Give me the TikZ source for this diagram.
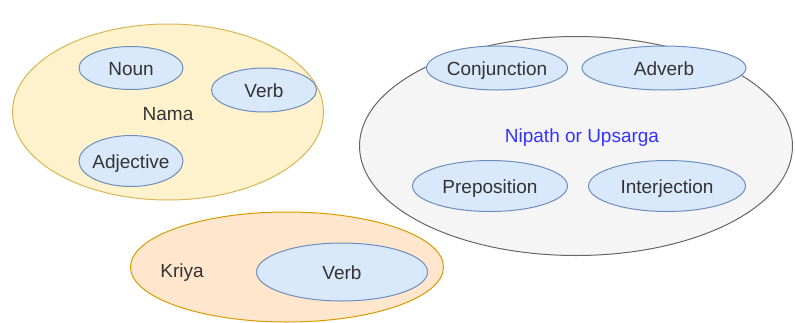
\documentclass[tikz,border=0pt]{standalone}
\usepackage{fontspec}
\setmainfont{Liberation Sans}
\usetikzlibrary{shapes.geometric}
\definecolor{namafill}{HTML}{FFF2CC}
\definecolor{namaline}{HTML}{D6B656}
\definecolor{kriyafill}{HTML}{FFE6CC}
\definecolor{kriyaline}{HTML}{D79B00}
\definecolor{wordfill}{HTML}{DAE8FC}
\definecolor{wordline}{HTML}{6C8EBF}
\definecolor{groupfill}{HTML}{F5F5F5}
\definecolor{groupline}{HTML}{666666}
\definecolor{textgray}{HTML}{333333}
\definecolor{nipathblue}{HTML}{3333FF}
\tikzset{
  typeset/.style={font=\fontsize{19}{21}\selectfont, text height=17pt, text depth=1.6pt},
  blob/.style={ellipse, inner sep=0pt, line width=1pt},
  % negative x padding keeps the outline at its minimum width for long words
  word/.style={blob, typeset, inner xsep=-6pt, draw=wordline, fill=wordfill, text=textgray},
  label/.style={typeset, text=textgray, inner sep=0pt},
}
\begin{document}
\begin{tikzpicture}[x=1pt, y=-1pt]
\useasboundingbox (0,0) rectangle (795,322);
% group ellipses
\node[blob, draw=namaline, fill=namafill, minimum width=311pt, minimum height=176pt] (nama) at (168,112) {};
\node[blob, draw=groupline, fill=groupfill, minimum width=433pt, minimum height=219pt] (nipath) at (576,146) {};
\node[blob, draw=kriyaline, fill=kriyafill, minimum width=313pt, minimum height=110pt] (kriya) at (287,267) {};
% group names
\node[label] (namaname) at (168,113) {Nama};
\node[label] (kriyaname) at (182,270) {Kriya};
\node[label, text=nipathblue] (nipathname) at (582,135) {Nipath or Upsarga};
% word classes
\node[word, minimum width=104pt, minimum height=43pt] (noun) at (131,68) {Noun};
\node[word, minimum width=105pt, minimum height=44pt] (verbn) at (264,90) {Verb};
\node[word, minimum width=104pt, minimum height=51pt] (adj) at (131,161) {Adjective};
\node[word, minimum width=171pt, minimum height=58pt] (verbk) at (342,272) {Verb};
\node[word, minimum width=141pt, minimum height=44pt] (conj) at (497,68) {Conjunction};
\node[word, minimum width=164pt, minimum height=44pt] (adverb) at (664,68) {Adverb};
\node[word, minimum width=155pt, minimum height=51pt] (prep) at (490,186) {Preposition};
\node[word, minimum width=157pt, minimum height=51pt] (interj) at (667,186) {Interjection};
\end{tikzpicture}
\end{document}
